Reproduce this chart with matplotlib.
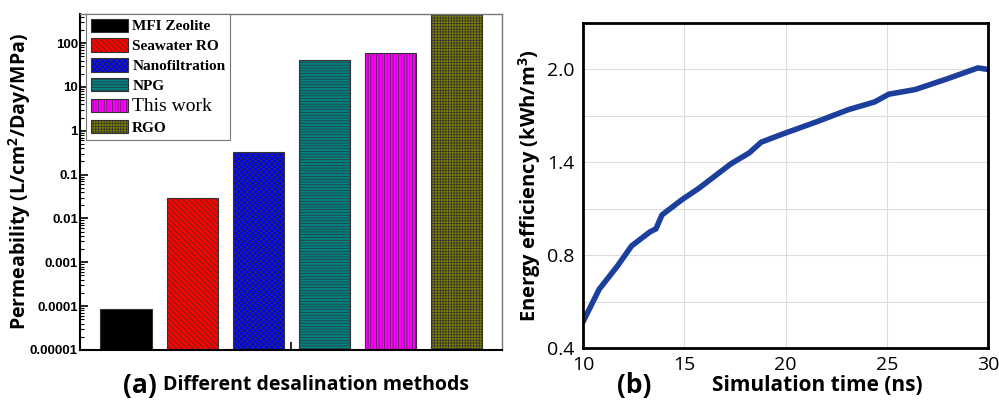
import numpy as np
import matplotlib.pyplot as plt
from matplotlib.patches import Patch

# (a) permeability by method
methods = ['MFI Zeolite', 'Seawater RO', 'Nanofiltration', 'NPG', 'This work', 'RGO']
permeability = [8.5e-5, 0.030, 0.32, 41, 59, 500]
bar_colors = ['#000000', '#ff0000', '#0000ff', '#008080', '#ff00ff', '#808000']
bar_hatches = ['', '\\\\\\\\\\\\', 'xxxxxx', '------', '||||||', '++++++']

# (b) energy efficiency vs simulation time
sim_time = [10.0, 10.8, 11.7, 12.4, 13.3, 13.6, 13.9, 14.9, 15.7, 16.5, 17.3, 18.2,
            18.8, 19.8, 21.5, 23.1, 24.4, 25.1, 26.4, 28.0, 29.5, 30.0]
energy = [0.37, 0.58, 0.73, 0.86, 0.95, 0.97, 1.06, 1.16, 1.23, 1.31, 1.39, 1.46,
          1.53, 1.58, 1.66, 1.74, 1.79, 1.84, 1.87, 1.94, 2.01, 2.00]
b_ticks = [0.2, 0.8, 1.4, 2.0]
b_ticklabels = ['0.4', '0.8', '1.4', '2.0']
b_minor = [0.5, 1.1, 1.7]

plt.rcParams['hatch.linewidth'] = 0.5
sans = 'Open Sans'
fig = plt.figure(figsize=(9.99, 4.08), dpi=100)

# ---- left panel ----
ax1 = fig.add_axes([0.0801, 0.1422, 0.4224, 0.8235])
x = np.arange(1, len(methods) + 1)
bars = ax1.bar(x, permeability, width=0.78, color=bar_colors, edgecolor='#333333', linewidth=0.8)
for b, h in zip(bars, bar_hatches):
    b.set_hatch(h)
ax1.set_yscale('log')
ax1.set_ylim(1e-5, 460)
ax1.set_xlim(0.30, 6.69)
ax1.set_yticks([1e-5, 1e-4, 1e-3, 1e-2, 1e-1, 1, 10, 100])
ax1.set_yticklabels(['0.00001', '0.0001', '0.001', '0.01', '0.1', '1', '10', '100'],
                    fontfamily='Liberation Sans', fontweight='bold', fontsize=9.5)
ax1.set_xticks([3.5])
ax1.set_xticklabels([''])
ax1.tick_params(axis='both', which='major', direction='in', length=6, width=1.2)
ax1.tick_params(axis='y', which='major', pad=1.5)
ax1.tick_params(axis='y', which='minor', direction='in', length=3, width=0.8)
for s in ['left', 'bottom']:
    ax1.spines[s].set_linewidth(1.5)
for s in ['top', 'right']:
    ax1.spines[s].set_color('#777777')
    ax1.spines[s].set_linewidth(1.0)
ax1.set_ylabel('Permeability (L/cm$^\\mathregular{2}$/Day/MPa)', fontfamily=sans,
               fontweight='bold', fontsize=14)
ax1.yaxis.set_label_coords(-0.112, 0.5)

handles = [Patch(facecolor=c, edgecolor='#333333', hatch=h, linewidth=0.8)
           for c, h in zip(bar_colors, bar_hatches)]
leg = ax1.legend(handles, methods, loc='upper left', bbox_to_anchor=(0.015, 1.0),
                 prop={'family': 'Liberation Serif', 'weight': 'bold', 'size': 11},
                 handlelength=2.4, handleheight=0.95, handletextpad=0.3,
                 labelspacing=0.33, borderpad=0.3, borderaxespad=0.0,
                 fancybox=False, framealpha=1, edgecolor='#777777')
leg.get_frame().set_linewidth(0.8)
tw = leg.get_texts()[4]
tw.set_fontweight('normal')
tw.set_fontsize(14)

fig.text(0.140, 0.056, '(a)', fontfamily=sans, fontweight='bold', fontsize=19,
         ha='center', va='center')
fig.text(0.163, 0.056, 'Different desalination methods', fontfamily=sans,
         fontweight='bold', fontsize=14, ha='left', va='center')

# ---- right panel ----
ax2 = fig.add_axes([0.5836, 0.147, 0.4054, 0.7966])
ax2.plot(sim_time, energy, color='#1c3f9b', linewidth=4, solid_capstyle='round')
ax2.set_xlim(10, 30)
ax2.set_ylim(0.2, 2.3)
ax2.set_xticks([10, 15, 20, 25, 30])
ax2.set_yticks(b_ticks)
ax2.set_yticklabels(b_ticklabels)
ax2.set_yticks(b_minor, minor=True)
ax2.grid(True, which='both', color='#dddddd', linewidth=0.8)
ax2.tick_params(axis='both', which='both', length=0, labelsize=14, pad=6)
for lbl in ax2.get_xticklabels() + ax2.get_yticklabels():
    lbl.set_fontfamily(sans)
for s in ax2.spines.values():
    s.set_linewidth(2)
ax2.set_ylabel('Energy efficiency (kWh/m$^\\mathregular{3}$)', fontfamily=sans,
               fontweight='bold', fontsize=14.5, labelpad=3)

fig.text(0.635, 0.056, '(b)', fontfamily=sans, fontweight='bold', fontsize=19,
         ha='center', va='center')
fig.text(0.713, 0.056, 'Simulation time (ns)', fontfamily=sans,
         fontweight='bold', fontsize=15, ha='left', va='center')

fig.savefig('out.png', dpi=100)
